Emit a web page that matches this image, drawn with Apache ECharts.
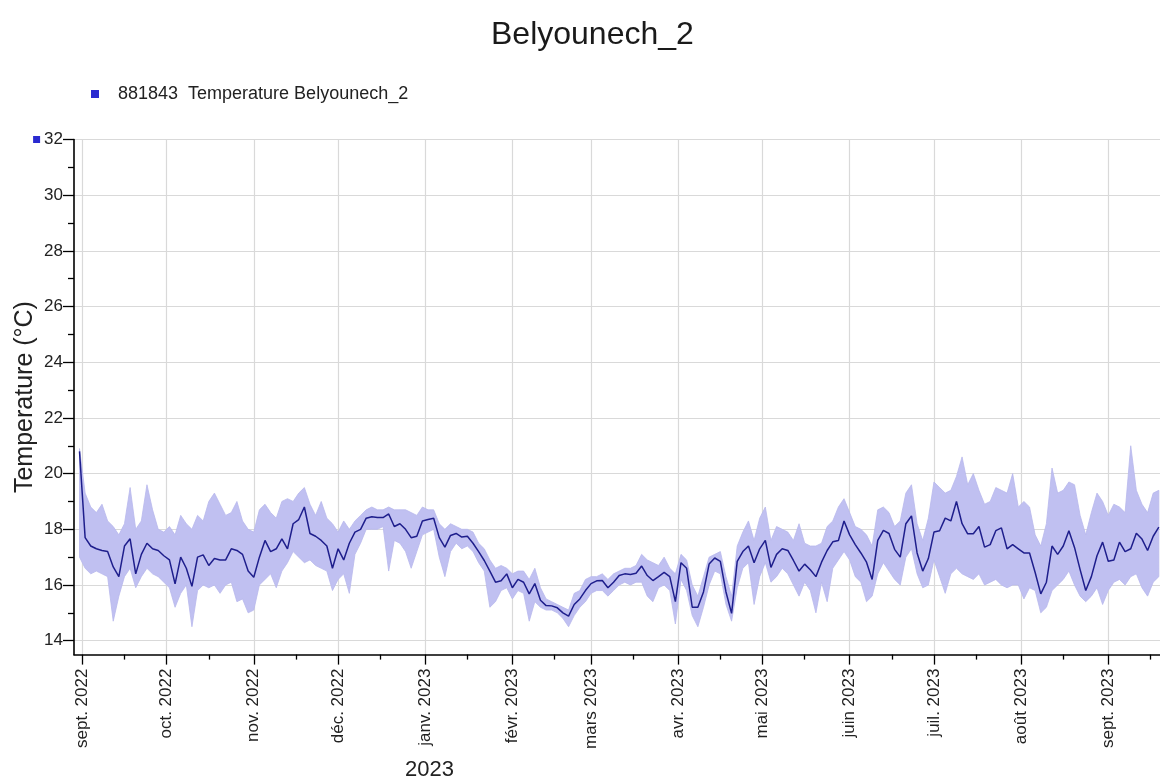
<!DOCTYPE html>
<html>
<head>
<meta charset="utf-8">
<script src="https://cdn.jsdelivr.net/npm/echarts@6/dist/echarts.min.js"></script>
<style>
  html, body { margin: 0; padding: 0; background: #fff; }
  #chart { width: 1160px; height: 783px; }
</style>
</head>
<body>
<div id="chart"></div>
<script>
// ---------- DATA ----------
const titleText = 'Belyounech_2';
const seriesName = '881843  Temperature Belyounech_2';
const yAxisTitle = 'Temperature (°C)';
const yearLabel = '2023';

// samples every 2 days starting 31 Aug 2022
const startYear = 2022, startMonth = 7, startDay = 31, stepDays = 2;

// smoothed (dark) series
const meanTemp = [
 20.8,17.7,17.4,17.3,17.24,17.2,16.65,16.3,17.4,17.66,16.4,17.1,17.5,17.3,17.24,17.05,16.9,16.04,17.0,16.6,
 15.95,17.0,17.08,16.7,16.95,16.9,16.9,17.3,17.24,17.1,16.5,16.28,17.0,17.6,17.2,17.3,17.66,17.3,18.2,18.35,
 18.8,17.85,17.75,17.6,17.4,16.6,17.3,16.9,17.5,17.9,18.0,18.4,18.45,18.42,18.42,18.55,18.1,18.2,18.0,17.7,
 17.75,18.3,18.35,18.4,17.7,17.36,17.78,17.85,17.72,17.75,17.5,17.2,16.88,16.5,16.1,16.15,16.4,15.9,16.2,16.1,
 15.68,16.05,15.45,15.26,15.25,15.18,15.0,14.88,15.3,15.5,15.8,16.05,16.15,16.16,15.9,16.1,16.34,16.4,16.38,16.42,
 16.68,16.34,16.16,16.3,16.45,16.3,15.4,16.8,16.6,15.2,15.2,15.75,16.75,16.97,16.85,15.75,14.98,16.85,17.2,17.4,
 16.8,17.3,17.6,16.63,17.1,17.3,17.24,16.88,16.5,16.75,16.55,16.3,16.82,17.24,17.55,17.6,18.3,17.8,17.45,17.15,
 16.82,16.2,17.6,17.96,17.85,17.28,17.0,18.2,18.48,17.15,16.5,16.95,17.9,17.95,18.4,18.3,19.0,18.2,17.84,17.84,
 18.1,17.36,17.45,17.95,18.05,17.3,17.45,17.3,17.15,17.15,16.45,15.68,16.1,17.4,17.1,17.4,17.95,17.35,16.55,15.8,
 16.3,17.05,17.54,16.85,16.9,17.54,17.2,17.3,17.86,17.65,17.24,17.75,18.08
];
// raw (light) series envelope
const highTemp = [
 20.9,19.3,18.8,18.6,18.9,18.3,18.1,17.8,18.2,19.5,18.0,18.3,19.6,18.7,18.0,17.9,18.1,17.8,18.5,18.2,
 18.0,18.5,18.3,19.0,19.3,18.9,18.5,18.6,19.0,18.3,18.0,17.9,18.7,18.9,18.6,18.4,19.0,19.1,19.0,19.3,
 19.5,18.9,18.5,19.0,18.4,18.2,17.9,18.3,18.0,18.3,18.5,18.7,18.8,18.7,18.7,18.8,18.7,18.7,18.7,18.6,
 18.5,18.8,18.7,18.7,18.2,18.0,18.2,18.1,18.0,18.0,17.9,17.5,17.3,16.9,16.6,16.7,16.6,16.4,16.5,16.5,
 16.2,16.6,15.9,15.5,15.4,15.3,15.2,15.1,15.7,15.8,16.2,16.3,16.3,16.4,16.2,16.4,16.5,16.6,16.6,16.7,
 17.1,16.9,16.8,16.7,17.0,16.6,16.4,17.1,16.9,16.0,15.6,16.3,17.0,17.1,17.2,16.3,15.6,17.4,17.9,18.3,
 17.6,18.4,18.8,17.6,18.1,18.0,17.9,17.6,18.2,17.5,17.4,17.4,17.5,18.1,18.3,18.8,19.1,18.6,18.1,18.0,
 17.8,17.4,18.7,18.8,18.6,18.1,18.3,19.3,19.6,18.2,17.6,18.4,19.7,19.5,19.3,19.4,19.9,20.6,19.6,20.0,
 19.4,18.9,19.0,19.5,19.4,19.3,20.0,18.8,19.0,18.8,17.8,17.4,18.2,20.2,19.3,19.4,19.7,19.6,18.5,17.8,
 18.6,19.3,19.0,18.5,18.9,18.8,18.6,21.0,19.4,18.9,18.6,19.3,19.4
];
const lowTemp = [
 17.0,16.6,16.4,16.5,16.4,16.3,14.7,15.6,16.3,16.6,15.9,16.3,16.6,16.4,16.3,16.1,15.9,15.2,15.7,16.0,
 14.5,15.8,16.0,15.9,16.0,15.7,16.0,16.1,15.4,15.5,15.0,15.1,16.0,16.2,16.4,15.9,16.5,16.8,17.2,17.0,
 16.8,16.9,16.7,16.6,16.5,15.8,16.2,16.4,15.7,17.1,17.5,18.0,18.0,18.0,18.1,16.5,17.6,17.5,17.2,16.6,
 17.2,17.8,17.9,18.0,17.0,16.3,17.2,17.5,17.3,17.4,17.2,16.8,16.5,15.2,15.4,15.8,15.9,15.5,15.8,15.7,
 14.7,15.4,15.2,15.1,15.1,15.0,14.8,14.5,14.9,15.2,15.4,15.7,15.8,15.8,15.6,15.8,16.0,16.1,16.0,16.1,
 16.1,15.6,15.4,15.9,16.0,15.8,14.6,16.2,15.8,14.9,14.5,15.2,16.0,16.5,16.4,15.3,14.7,15.9,16.6,16.8,
 15.3,16.3,16.8,16.1,16.3,16.6,16.4,16.0,15.6,16.1,15.8,15.0,16.1,15.4,16.6,16.9,17.2,16.9,16.3,16.1,
 15.4,15.6,16.4,16.8,16.5,16.2,16.0,17.0,17.3,16.4,15.9,16.0,16.9,16.3,15.7,16.4,16.6,16.4,16.3,16.2,
 16.4,16.0,16.1,16.2,16.0,15.9,16.0,16.0,15.5,15.9,15.8,15.0,15.2,15.8,16.0,16.2,16.5,16.0,15.6,15.4,
 15.6,15.9,15.3,15.8,16.1,16.2,16.0,16.3,16.4,15.9,15.6,16.1,16.3
];

// axis ticks / labels
const monthTicks = [
 [2022,8],[2022,9],[2022,10],[2022,11],[2023,0],[2023,1],[2023,2],
 [2023,3],[2023,4],[2023,5],[2023,6],[2023,7],[2023,8]
];
const monthLabels = [
 'sept. 2022','oct. 2022','nov. 2022','déc. 2022','janv. 2023','févr. 2023','mars 2023',
 'avr. 2023','mai 2023','juin 2023','juil. 2023','août 2023','sept. 2023'
];
const yMajor = [14,16,18,20,22,24,26,28,30,32];
const yMinor = [15,17,19,21,23,25,27,29,31];

// ---------- BUILD ----------
const dates = meanTemp.map((_, i) => new Date(startYear, startMonth, startDay + stepDays * i).getTime());
const monthTimes = monthTicks.map(([y, m]) => new Date(y, m, 1).getTime());
const midTimes = monthTicks.map(([y, m]) => new Date(y, m, 16).getTime());
const xMin = new Date(2022, 7, 29, 1).getTime();
const xMax = new Date(2023, 8, 19, 10).getTime();

const bandData = dates.map((t, i) => [t, lowTemp[i], highTemp[i]]);
const meanData = dates.map((t, i) => [t, meanTemp[i]]);

const FONT = '"Liberation Sans", Arial, sans-serif';

function renderBand(params, api) {
  if (params.dataIndex !== 0) return null;
  const n = bandData.length;
  const pts = [];
  for (let i = 0; i < n; i++) pts.push(api.coord([bandData[i][0], bandData[i][2]]));
  for (let i = n - 1; i >= 0; i--) pts.push(api.coord([bandData[i][0], bandData[i][1]]));
  return {
    type: 'polygon',
    shape: { points: pts },
    style: { fill: '#c0c0f1', stroke: '#b8b8ec', lineWidth: 0.8 },
    silent: true
  };
}

const chart = echarts.init(document.getElementById('chart'), null, { renderer: 'canvas' });
chart.setOption({
  animation: false,
  backgroundColor: '#ffffff',
  textStyle: { fontFamily: FONT },
  title: {
    text: titleText,
    left: 486, top: 14,
    textStyle: { fontSize: 32, fontWeight: 'normal', color: '#1a1a1a', fontFamily: FONT }
  },
  legend: {
    left: 86, top: 80,
    icon: 'rect', itemWidth: 8, itemHeight: 8, itemGap: 10,
    textStyle: { fontSize: 18, color: '#222', padding: [0, 0, 0, 14], fontFamily: FONT },
    data: [{ name: seriesName, itemStyle: { color: '#2a2ad0' } }]
  },
  grid: { left: 74, right: 0, top: 139.5, bottom: 128.4, containLabel: false, outerBoundsMode: 'none' },
  xAxis: [{
    type: 'value', min: xMin, max: xMax,
    axisLine: { lineStyle: { color: '#000', width: 1.6 } },
    axisTick: { show: true, customValues: monthTimes, length: 10, lineStyle: { color: '#000', width: 1.3 } },
    axisLabel: {
      customValues: monthTimes, rotate: 90, margin: 14, fontSize: 17, color: '#222', fontFamily: FONT,
      formatter: (v) => { const k = monthTimes.indexOf(v); return k >= 0 ? monthLabels[k] : ''; }
    },
    splitLine: { show: true, lineStyle: { color: '#d9d9d9', width: 1.2 } }
  }, {
    type: 'value', min: xMin, max: xMax, position: 'bottom',
    axisLine: { show: false },
    axisTick: { show: true, customValues: midTimes, length: 5, lineStyle: { color: '#000', width: 1.3 } },
    axisLabel: { show: false },
    splitLine: { show: false }
  }],
  yAxis: [{
    type: 'value', min: 13.5, max: 32,
    name: yAxisTitle, nameLocation: 'middle', nameGap: 36, nameMoveOverlap: false,
    nameTextStyle: { fontSize: 25, color: '#222', fontFamily: FONT },
    axisLine: { show: true, lineStyle: { color: '#000', width: 1.6 } },
    axisTick: { show: true, customValues: yMajor, length: 11, lineStyle: { color: '#000', width: 1.3 } },
    axisLabel: {
      customValues: yMajor, margin: 11, fontSize: 17, color: '#222', fontFamily: FONT,
      formatter: (v) => v === 32 ? '{sq|}{gap|}32' : String(v),
      rich: {
        sq: { backgroundColor: '#2a2ad0', width: 7, height: 7 },
        gap: { width: 4 }
      }
    },
    splitLine: { show: true, lineStyle: { color: '#d9d9d9', width: 1.2 } }
  }, {
    type: 'value', min: 13.5, max: 32, position: 'left',
    axisLine: { show: false },
    axisTick: { show: true, customValues: yMinor, length: 6, lineStyle: { color: '#000', width: 1.3 } },
    axisLabel: { show: false },
    splitLine: { show: false }
  }],
  graphic: [{
    type: 'text', left: 405, top: 759,
    style: { text: yearLabel, fontSize: 22, fill: '#222', fontFamily: FONT }
  }],
  series: [{
    name: 'raw', type: 'custom', data: bandData,
    encode: { x: 0, y: [1, 2] },
    renderItem: renderBand, clip: true, silent: true, z: 2
  }, {
    name: seriesName, type: 'line', data: meanData,
    showSymbol: false, symbol: 'none', z: 3,
    lineStyle: { color: '#1e1e8c', width: 1.5 },
    itemStyle: { color: '#2a2ad0' }
  }]
});
</script>
</body>
</html>
